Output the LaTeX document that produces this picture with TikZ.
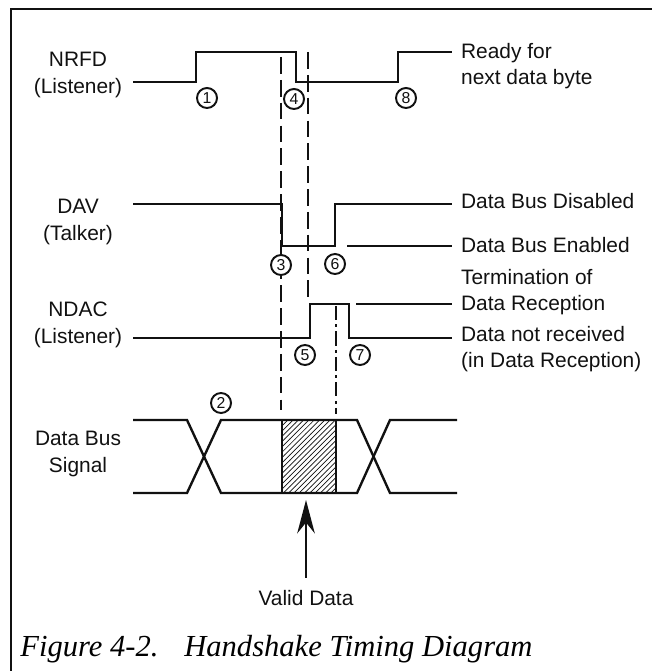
\documentclass[tikz,border=0pt]{standalone}
\usepackage{fontspec}
\setsansfont{Liberation Sans}
\setmainfont{Liberation Serif}
\definecolor{inkBlack}{HTML}{111111}
\usepackage{tikz}
\usetikzlibrary{arrows.meta,patterns}
\newcommand{\hsmark}[3]{%
 \node[circle, draw=inkBlack, fill=white, line width=1.1pt, minimum size=11.4pt, inner sep=0pt, font=\sffamily\fontsize{9}{9}\selectfont, text=inkBlack] (#1) at (#2) {#3};}

\begin{document}
\begin{tikzpicture}[x=0.02cm, y=-0.02cm,
 sig/.style={line width=1.35pt, draw=inkBlack},
 guide/.style={line width=1.2pt, draw=inkBlack, dash pattern=on 9.5pt off 3.5pt},
 chain/.style={line width=1.2pt, draw=inkBlack, dash pattern=on 8pt off 2.5pt on 1.5pt off 2.5pt},
 lbl/.style={font=\sffamily\fontsize{11.9}{15.5}\selectfont, align=center, inner sep=0pt, text=inkBlack},
 note/.style={font=\sffamily\fontsize{11.9}{14.8}\selectfont, align=left, anchor=west, inner xsep=5pt, inner ysep=0pt, text=inkBlack}]
\useasboundingbox (0,0) rectangle (653,671);
\draw[line width=1.6pt, inkBlack] (11,671) -- (11,9) -- (652,9);

% signal names
\node[lbl] (nrfd) at (78,75) {NRFD\\(Listener)};
\node[lbl] (dav) at (78,222) {DAV\\(Talker)};
\node[lbl] (ndac) at (78,325) {NDAC\\(Listener)};
\node[lbl] (bus) at (78,454) {Data Bus\\Signal};

% notes on the right
\node[note] (ready) at (452,66) {Ready for\\next data byte};
\node[note] (dis) at (452,201) {Data Bus Disabled};
\node[note] (en) at (452,245) {Data Bus Enabled};
\node[note] (term) at (452,292.5) {Termination of\\Data Reception};
\node[note] (norcv) at (452,349.5) {Data not received\\(in Data Reception)};

% guide lines
\draw[guide] (281,57) -- (281,410);
\draw[guide] (308,52) -- (308,297);
\draw[chain] (336,306) -- (336,414);

% waveforms
\draw[sig] (133,82) -- (196,82) -- (196,52) -- (296,52) -- (296,82) -- (398,82) -- (398,52) -- (ready.west |- 0,52);
\draw[sig] (133,204) -- (282,204) -- (282,246) -- (335,246) -- (335,204) -- (dis.west |- 0,204);
\draw[sig] (347,246) -- (en.west |- 0,246);
\draw[sig] (133,338) -- (310,338) -- (310,304) -- (349,304) -- (349,338) -- (norcv.west |- 0,338);
\draw[sig] (356,304) -- (term.west |- 0,304);

% data bus
\fill[pattern=north east lines, pattern color=inkBlack] (282,420) rectangle (336,493);
\draw[sig] (282,420) rectangle (336,493);
\draw[sig] (133,420) -- (187,420) -- (221,493) -- (357,493) -- (390,420) -- (457,420);
\draw[sig] (133,493) -- (187,493) -- (221,420) -- (357,420) -- (390,493) -- (457,493);

% numbered events
\hsmark{m1}{207,98}{1}
\hsmark{m2}{221,403}{2}
\hsmark{m3}{281,265}{3}
\hsmark{m4}{294,99}{4}
\hsmark{m5}{305,355}{5}
\hsmark{m6}{335,264}{6}
\hsmark{m7}{360,355}{7}
\hsmark{m8}{406,98}{8}

% valid data pointer
\node[lbl] (valid) at (306,598) {Valid Data};
\coordinate (validtip) at (306,500);
\draw[line width=1.3pt, inkBlack, -{Stealth[length=19pt, width=10pt]}, shorten <=7pt] (valid.north) -- (validtip);

% caption
\node[anchor=base west, inner sep=0pt, font=\itshape\fontsize{17.4}{20}\selectfont] (capnum) at (20,656) {Figure 4-2.};
\node[anchor=base west, inner sep=0pt, font=\itshape\fontsize{17.4}{20}\selectfont] (captext) at (184,656) {Handshake Timing Diagram};
\end{tikzpicture}
\end{document}
